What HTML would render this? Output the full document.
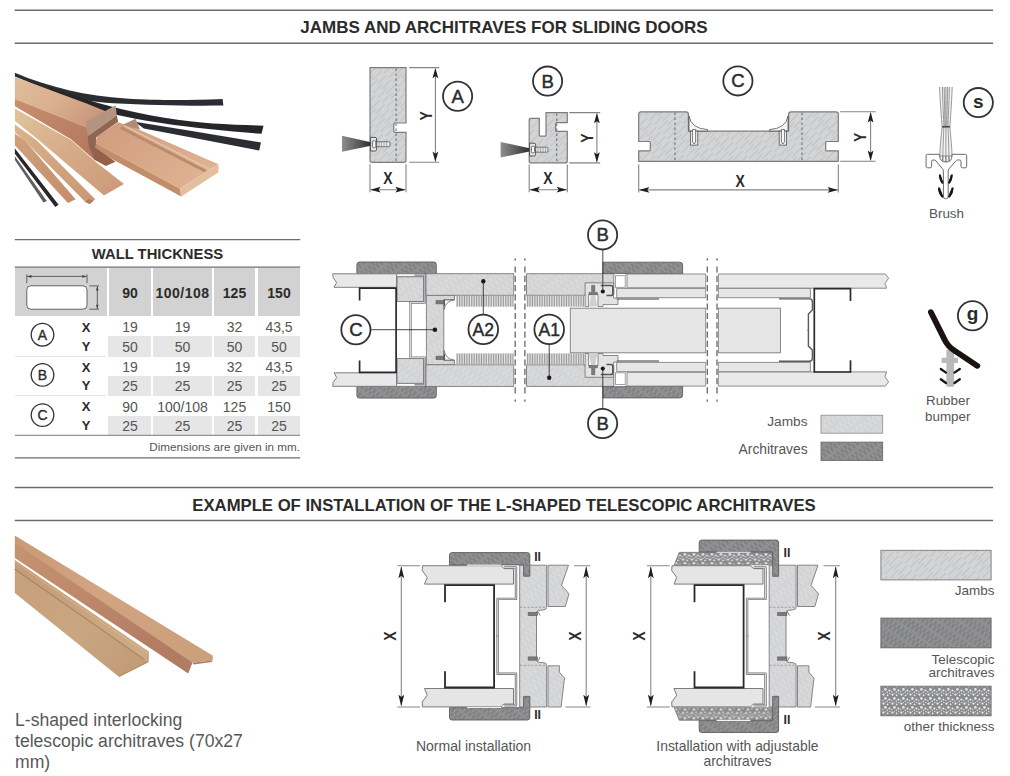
<!DOCTYPE html>
<html lang="en">
<head>
<meta charset="utf-8">
<title>Jambs and architraves for sliding doors</title>
<style>
html,body{margin:0;padding:0;background:#fff;}
body{width:1010px;height:776px;position:relative;overflow:hidden;font-family:"Liberation Sans",Arial,sans-serif;color:#333;}
.abs{position:absolute;}
.rule{position:absolute;height:2px;background:#6e6e6e;}
.h1{position:absolute;left:0;width:1010px;text-align:center;font-weight:bold;font-size:17px;line-height:20px;color:#2b2b2b;white-space:nowrap;}
.lbl{position:absolute;color:#555;font-size:13px;white-space:nowrap;line-height:1;}
/* table */
.tb{position:absolute;font-size:14px;color:#555;}
.tb .c{position:absolute;text-align:center;line-height:1;white-space:nowrap;}
.tb .g{position:absolute;background:#d2d2d2;}
.tb .l{position:absolute;background:#e6e6e6;}
.tb b{color:#2b2b2b;}
svg{position:absolute;left:0;top:0;}
svg text{font-family:"Liberation Sans",Arial,sans-serif;}
</style>
</head>
<body>
<!-- section rules and titles -->
<div class="h1" style="top:18px;left:-1px;">JAMBS AND ARCHITRAVES FOR SLIDING DOORS</div>

<div class="h1" style="top:496px;font-size:16.7px;left:-1px;">EXAMPLE OF INSTALLATION OF THE L-SHAPED TELESCOPIC ARCHITRAVES</div>

<!-- WALL THICKNESS table -->
<div class="tb" id="tb" style="left:0;top:0;width:320px;height:470px;">
  <div class="c" style="left:15px;width:285px;top:247px;font-weight:bold;font-size:14.8px;color:#2b2b2b;">WALL THICKNESS</div>
  <!-- header cells -->
  <div class="g" style="left:15px;top:268px;width:92px;height:48px;"></div>
  <div class="g" style="left:109px;top:268px;width:42px;height:48px;"></div>
  <div class="g" style="left:153px;top:268px;width:59px;height:48px;"></div>
  <div class="g" style="left:214px;top:268px;width:41px;height:48px;"></div>
  <div class="g" style="left:258px;top:268px;width:42px;height:48px;"></div>
  <div class="c" style="left:109px;width:42px;top:286px;"><b>90</b></div>
  <div class="c" style="left:153px;width:59px;top:286px;letter-spacing:0.5px;"><b>100/108</b></div>
  <div class="c" style="left:214px;width:41px;top:286px;"><b>125</b></div>
  <div class="c" style="left:258px;width:42px;top:286px;"><b>150</b></div>
  <!-- Y rows light grey -->
  <div class="l" style="left:108px;top:336px;width:43px;height:21px;"></div>
  <div class="l" style="left:153px;top:336px;width:59px;height:21px;"></div>
  <div class="l" style="left:214px;top:336px;width:41px;height:21px;"></div>
  <div class="l" style="left:258px;top:336px;width:42px;height:21px;"></div>
  <div class="l" style="left:108px;top:376px;width:43px;height:20px;"></div>
  <div class="l" style="left:153px;top:376px;width:59px;height:20px;"></div>
  <div class="l" style="left:214px;top:376px;width:41px;height:20px;"></div>
  <div class="l" style="left:258px;top:376px;width:42px;height:20px;"></div>
  <div class="l" style="left:108px;top:416px;width:43px;height:19px;"></div>
  <div class="l" style="left:153px;top:416px;width:59px;height:19px;"></div>
  <div class="l" style="left:214px;top:416px;width:41px;height:19px;"></div>
  <div class="l" style="left:258px;top:416px;width:42px;height:19px;"></div>
  <!-- faint separators -->
  <div class="abs" style="left:15px;top:356px;width:91px;height:1px;background:#e4e4e4;"></div>
  <div class="abs" style="left:15px;top:395px;width:91px;height:1px;background:#e4e4e4;"></div>
  <!-- X / Y labels -->
  <div class="c" style="left:76px;width:20px;top:321px;font-size:13px;"><b>X</b></div>
  <div class="c" style="left:76px;width:20px;top:340px;font-size:13px;"><b>Y</b></div>
  <div class="c" style="left:76px;width:20px;top:361px;font-size:13px;"><b>X</b></div>
  <div class="c" style="left:76px;width:20px;top:379px;font-size:13px;"><b>Y</b></div>
  <div class="c" style="left:76px;width:20px;top:400px;font-size:13px;"><b>X</b></div>
  <div class="c" style="left:76px;width:20px;top:419px;font-size:13px;"><b>Y</b></div>
  <!-- values row A -->
  <div class="c" style="left:109px;width:42px;top:320px;">19</div>
  <div class="c" style="left:153px;width:59px;top:320px;">19</div>
  <div class="c" style="left:214px;width:41px;top:320px;">32</div>
  <div class="c" style="left:258px;width:42px;top:320px;">43,5</div>
  <div class="c" style="left:109px;width:42px;top:340px;">50</div>
  <div class="c" style="left:153px;width:59px;top:340px;">50</div>
  <div class="c" style="left:214px;width:41px;top:340px;">50</div>
  <div class="c" style="left:258px;width:42px;top:340px;">50</div>
  <!-- row B -->
  <div class="c" style="left:109px;width:42px;top:360px;">19</div>
  <div class="c" style="left:153px;width:59px;top:360px;">19</div>
  <div class="c" style="left:214px;width:41px;top:360px;">32</div>
  <div class="c" style="left:258px;width:42px;top:360px;">43,5</div>
  <div class="c" style="left:109px;width:42px;top:379px;">25</div>
  <div class="c" style="left:153px;width:59px;top:379px;">25</div>
  <div class="c" style="left:214px;width:41px;top:379px;">25</div>
  <div class="c" style="left:258px;width:42px;top:379px;">25</div>
  <!-- row C -->
  <div class="c" style="left:109px;width:42px;top:400px;">90</div>
  <div class="c" style="left:153px;width:59px;top:400px;">100/108</div>
  <div class="c" style="left:214px;width:41px;top:400px;">125</div>
  <div class="c" style="left:258px;width:42px;top:400px;">150</div>
  <div class="c" style="left:109px;width:42px;top:419px;">25</div>
  <div class="c" style="left:153px;width:59px;top:419px;">25</div>
  <div class="c" style="left:214px;width:41px;top:419px;">25</div>
  <div class="c" style="left:258px;width:42px;top:419px;">25</div>
  <div class="c" style="left:100px;width:200px;top:441px;text-align:right;font-size:11.7px;">Dimensions are given in mm.</div>
</div>

<!-- text labels -->
<div class="lbl" style="left:929px;top:207px;font-size:13.4px;">Brush</div>
<div class="lbl" style="left:926px;top:394px;font-size:13.4px;">Rubber</div>
<div class="lbl" style="left:925px;top:410px;font-size:13.4px;">bumper</div>
<div class="lbl" style="left:700px;width:107.6px;text-align:right;top:414.5px;font-size:13.7px;">Jambs</div>
<div class="lbl" style="left:700px;width:107.6px;text-align:right;top:443px;font-size:13.8px;">Architraves</div>
<div class="lbl" style="left:15px;top:709.7px;font-size:17.6px;line-height:20.9px;white-space:normal;width:260px;color:#585858;">L-shaped interlocking<br>telescopic architraves (70x27<br>mm)</div>
<div class="lbl" style="left:373.5px;width:200px;text-align:center;top:739px;font-size:14px;line-height:15px;">Normal installation</div>
<div class="lbl" style="left:637.4px;width:200px;text-align:center;top:739px;font-size:13.9px;line-height:15px;white-space:normal;">Installation with adjustable<br>architraves</div>
<div class="lbl" style="left:874.5px;width:120px;text-align:right;top:584px;font-size:13.5px;">Jambs</div>
<div class="lbl" style="left:874.5px;width:120px;text-align:right;top:654.1px;font-size:13.5px;line-height:12.4px;white-space:normal;">Telescopic<br>architraves</div>
<div class="lbl" style="left:874.5px;width:120px;text-align:right;top:719.9px;font-size:13.5px;">other thickness</div>

<!-- DRAWINGS -->
<svg id="dw" width="1010" height="776" viewBox="0 0 1010 776">
<defs>
<pattern id="hL" width="6.5" height="22" patternUnits="userSpaceOnUse" patternTransform="rotate(45)">
  <rect width="6.5" height="22" fill="#d3d4d6"/>
  <path d="M1.5,0 V13 M4.8,9 V22" stroke="#b9babc" stroke-width="0.8" fill="none"/>
</pattern>
<pattern id="hL2" width="5" height="14" patternUnits="userSpaceOnUse" patternTransform="rotate(-40)">
  <rect width="5" height="14" fill="#d8d9da"/>
  <path d="M1.2,0 V9 M3.7,6 V14" stroke="#c8c9ca" stroke-width="0.8" fill="none"/>
</pattern>
<pattern id="hD" width="4.6" height="12" patternUnits="userSpaceOnUse" patternTransform="rotate(-40)">
  <rect width="4.6" height="12" fill="#828384"/>
  <path d="M1.2,0 V8 M3.5,5 V12" stroke="#a3a3a4" stroke-width="0.9" fill="none"/>
</pattern>
<pattern id="hS" width="9" height="9" patternUnits="userSpaceOnUse">
  <rect width="9" height="9" fill="#8a8b8c"/>
  <circle cx="1.5" cy="1.6" r="1.15" fill="#efefef"/>
  <circle cx="5.6" cy="2.4" r="0.8" fill="#f6f6f6"/>
  <circle cx="3.4" cy="5.4" r="1.3" fill="#e8e8e8"/>
  <circle cx="7.4" cy="6.6" r="1.0" fill="#f1f1f1"/>
  <circle cx="0.8" cy="7.6" r="0.7" fill="#f4f4f4"/>
  <circle cx="7.8" cy="0.6" r="0.65" fill="#ebebeb"/>
  <circle cx="5.3" cy="8.2" r="0.7" fill="#f2f2f2"/>
  <circle cx="3.6" cy="0.4" r="0.45" fill="#f2f2f2"/>
</pattern>
<linearGradient id="gBr" x1="0" y1="0" x2="1" y2="0">
  <stop offset="0" stop-color="#8e8e8e"/><stop offset="0.55" stop-color="#5a5a5a"/><stop offset="1" stop-color="#2a2a2a"/>
</linearGradient>
<g id="ahU"><path d="M0,0 L-2.9,10.4 L0,8.3 L2.9,10.4 Z" fill="#1e1e1e"/></g>
<pattern id="hB" width="1.7" height="6" patternUnits="userSpaceOnUse">
  <rect width="1.7" height="6" fill="#e6e6e6"/>
  <rect x="0" y="0" width="0.75" height="6" fill="#8e8e8e"/>
</pattern>
<filter id="blur1" x="-5%" y="-5%" width="110%" height="110%"><feGaussianBlur stdDeviation="0.55"/></filter>
<linearGradient id="w1" x1="0" y1="0" x2="1" y2="0.5"><stop offset="0" stop-color="#dfbe98"/><stop offset="0.5" stop-color="#dbb090"/><stop offset="1" stop-color="#c9967b"/></linearGradient>
<linearGradient id="w2" x1="0" y1="0" x2="1" y2="0.6"><stop offset="0" stop-color="#c98f6e"/><stop offset="1" stop-color="#b67a60"/></linearGradient>
<linearGradient id="w3" x1="0" y1="0" x2="1" y2="0.6"><stop offset="0" stop-color="#cf9c7d"/><stop offset="1" stop-color="#deb292"/></linearGradient>
<linearGradient id="w4" x1="0" y1="0" x2="1" y2="0.9"><stop offset="0" stop-color="#e0c49a"/><stop offset="0.5" stop-color="#d6ac88"/><stop offset="1" stop-color="#cc9a7a"/></linearGradient>
<linearGradient id="v1" x1="0" y1="0" x2="1" y2="0.6"><stop offset="0" stop-color="#c99a78"/><stop offset="0.5" stop-color="#d2a482"/><stop offset="1" stop-color="#cda07c"/></linearGradient>
<linearGradient id="v2" x1="0" y1="0" x2="1" y2="0.6"><stop offset="0" stop-color="#c4946f"/><stop offset="0.5" stop-color="#bd876b"/><stop offset="1" stop-color="#b27b62"/></linearGradient>
<linearGradient id="v3" x1="0" y1="0" x2="1" y2="0.7"><stop offset="0" stop-color="#c39a76"/><stop offset="1" stop-color="#cdab84"/></linearGradient>
<linearGradient id="v4" x1="0" y1="0" x2="1" y2="0.8"><stop offset="0" stop-color="#c7a07a"/><stop offset="0.6" stop-color="#c9a680"/><stop offset="1" stop-color="#c29c76"/></linearGradient>
<pattern id="hD2" width="4.6" height="12" patternUnits="userSpaceOnUse" patternTransform="rotate(35)">
  <rect width="4.6" height="12" fill="#828384"/>
  <path d="M1.2,0 V8 M3.5,5 V12" stroke="#a3a3a4" stroke-width="0.9" fill="none"/>
</pattern>
<linearGradient id="w5" x1="0" y1="0" x2="1" y2="1"><stop offset="0" stop-color="#d9b48c"/><stop offset="1" stop-color="#c89673"/></linearGradient>
<linearGradient id="w6" x1="0" y1="0" x2="1" y2="1"><stop offset="0" stop-color="#cfa07e"/><stop offset="1" stop-color="#c48d6c"/></linearGradient>

</defs>
<g stroke="#6c6c6c" stroke-width="1.5" fill="none">
  <path d="M14.7,10.3 H993.1 M14.7,43.3 H993.1 M14.7,487.6 H993.1 M14.7,520.4 H993.1"/>
</g>
<g stroke="#6c6c6c" fill="none">
  <path d="M14.8,239.7 H300.2" stroke-width="1.3"/>
  <path d="M14.8,267.1 H300.2" stroke-width="1.4"/>
  <path d="M14.8,435.3 H300.2" stroke-width="1" stroke="#7a7a7a"/>
  <path d="M14.8,457.9 H300.2" stroke-width="1.4"/>
</g>
<!-- table header icon -->
<g stroke="#555" stroke-width="0.9" fill="none">
  <rect x="26.8" y="285.8" width="60.2" height="23.4" rx="4" fill="#fff"/>
  <path d="M26.8,274.4 V283.2 M87,274.4 V283.2 M27.4,276.4 H86.4"/>
  <path d="M89.3,285.9 H99 M89.3,309.2 H99 M97.3,286.4 V308.8"/>
</g>
<g fill="#444">
  <path d="M26.9,276.4 l4.6,-1.3 v2.6 Z M86.9,276.4 l-4.6,-1.3 v2.6 Z M97.3,286 l-1.3,4.4 h2.6 Z M97.3,309.1 l-1.3,-4.4 h2.6 Z"/>
</g>
<!-- table circles -->
<g fill="#fff" stroke="#333" stroke-width="1.3">
  <circle cx="42.5" cy="334.7" r="11.3"/><circle cx="42.5" cy="374.9" r="11.3"/><circle cx="42.5" cy="415.1" r="11.3"/>
</g>
<g font-size="14" text-anchor="middle" fill="#2b2b2b" stroke="#2b2b2b" stroke-width="0.35">
  <text x="42.5" y="339.7">A</text><text x="42.5" y="379.9">B</text><text x="42.5" y="420.1">C</text>
</g>

<g id="photo1" filter="url(#blur1)">
<g transform="translate(10,60) scale(0.2574)"><path d="M19,50 C150,106 300,141 450,150 S700,156 826,152 L829,177 C700,179 550,176 400,168 S150,118 19,64 Z" fill="#2b2d30"/><path d="M150,104 C300,160 450,200 600,224 S850,250 985,255 L977,287 C850,278 700,262 600,247 S400,214 300,182 L150,118 Z" fill="#26282b"/></g>
<path d="M134.8,121.8 L190.2,130.8 L261.0,142.4 L259.2,150.6 L190.2,137.2 L143.8,128.5 Z" fill="#2b2d30" />
<path d="M14.9,77.0 L87.2,103.8 L115.5,115.3 L87.2,127.4 L14.9,98.9 Z" fill="url(#w1)" />
<path d="M14.9,98.9 L87.2,127.4 L89.8,137.2 L95.2,160.6 L71.3,139.5 L14.9,106.3 Z" fill="url(#w2)" />
<path d="M118.1,122.3 L138.7,129.5 L218.5,164.2 L179.9,188.7 L94.9,142.4 L97.5,136.2 Z" fill="url(#w3)" />
<path d="M120.7,127.4 L205.6,171.2 " stroke="#b98a6d" stroke-width="2.8" fill="none"/>
<path d="M124.5,125.9 L209.5,169.1 " stroke="#e6c4a8" stroke-width="1.4" fill="none"/>
<path d="M94.9,142.4 L179.9,188.7 L181.2,196.4 L96.2,150.6 Z" fill="#c38d6b" />
<path d="M218.5,164.2 L218.5,172.2 L181.2,196.4 L179.9,188.7 Z" fill="#e3bf9f" />
<path d="M94.9,147.5 L115.5,161.7 L105.8,166.0 L94.9,159.9 Z" fill="#955f4a" />
<path d="M85.9,121.8 L115.5,105.3 L116.8,115.3 L87.7,136.2 Z" fill="#b39480" />
<path d="M87.7,136.2 L116.8,115.3 L118.1,121.8 L96.2,137.2 L94.9,160.9 L88.8,146.2 Z" fill="#8f6552" />
<path d="M123.3,124.4 L135.6,118.7 L140.0,129.5 L131.0,127.4 Z" fill="#b08b75" />
<path d="M14.9,108.4 L71.3,140.3 L94.9,161.2 L124.0,184.1 L104.0,195.6 L38.6,140.1 L14.9,121.0 Z" fill="url(#w4)" />
<path d="M14.9,124.6 L36.3,140.1 L95.2,199.3 L89.8,204.1 L85.4,202.1 L23.9,140.1 L14.9,132.3 Z" fill="url(#w5)" />
<path d="M85.4,202.1 L88.5,199.0 L93.4,200.8 L89.8,204.1 Z" fill="#b07d5e" />
<path d="M14.9,133.6 L24.4,140.1 L75.6,199.3 L67.9,203.1 L14.9,145.2 Z" fill="url(#w6)" />
<path d="M14.9,148.5 L58.6,204.7 L55.3,207.0 L14.9,153.7 Z" fill="#2a2526" />
<path d="M14.9,156.3 L46.8,201.1 L43.5,202.6 L14.9,160.1 Z" fill="#5c5e5e" />
</g>

<g id="profiles" font-weight="bold" font-size="17" fill="#2b2b2b" text-anchor="middle">
<!-- ===== A ===== -->
<path d="M370,67.6 H406 V123 H394.8 Q393.8,123 393.8,124 V131.3 Q393.8,132.3 394.8,132.3 H406 V160.3 Q406,162.3 404,162.3 H372 Q370,162.3 370,160.3 Z" fill="url(#hL)" stroke="#7c7c7c" stroke-width="1.2"/>
<path d="M396.1,68.5 V162" stroke="#707070" stroke-width="1.1" stroke-dasharray="2.6,2.4" fill="none"/>
<path d="M342,135.8 L372,142.6 V145.4 L342,151.7 Z" fill="url(#gBr)"/>
<path d="M370.6,137.4 H375 Q376.6,137.4 376.6,139 V149.4 Q376.6,151 375,151 H370.6 Z" fill="#e9e9e9" stroke="#444" stroke-width="0.9"/>
<rect x="372.6" y="140.6" width="3.2" height="7.2" rx="1.4" fill="#fff" stroke="#444" stroke-width="0.8"/>
<rect x="376.6" y="141.7" width="13.4" height="5" rx="1.2" fill="#e4e4e4" stroke="#555" stroke-width="0.8"/>
<path d="M379,141.9 v4.6 M381.5,141.9 v4.6 M384,141.9 v4.6 M386.5,141.9 v4.6" stroke="#888" stroke-width="0.6"/>
<g stroke="#848484" stroke-width="1.1" fill="none">
  <path d="M409.3,67.6 H439.2 M409.3,162.3 H439.2 M435.4,69 V161"/>
  <path d="M370,164.2 V192.3 M406,164.2 V192.3 M371,189.7 H405"/>
</g>
<use href="#ahU" transform="translate(435.4,67.9)"/>
<use href="#ahU" transform="translate(435.4,162) rotate(180)"/>
<use href="#ahU" transform="translate(370.3,189.7) rotate(-90)"/>
<use href="#ahU" transform="translate(405.7,189.7) rotate(90)"/>
<text transform="translate(426,115.9) rotate(-90) scale(0.82,1)" y="6.1">Y</text>
<text transform="translate(388,178.1) scale(0.82,1)" y="6.1">X</text>
<circle cx="457.6" cy="96.2" r="14.6" fill="#fff" stroke="#333" stroke-width="1.8"/>
<text x="457.6" y="102.6" font-weight="normal" font-size="18.5" stroke="#2b2b2b" stroke-width="0.45">A</text>

<!-- ===== B ===== -->
<path d="M529.2,119.4 Q529.2,118.4 530.2,118.4 H539.3 V135.2 Q539.3,136.2 540.3,136.2 H545 Q546,136.2 546,135.2 V112.6 H567.3 V122.7 H556.7 Q555.7,122.7 555.7,123.7 V130.4 Q555.7,131.4 556.7,131.4 H567.3 V160.9 Q567.3,162.9 565.3,162.9 H531.2 Q529.2,162.9 529.2,160.9 Z" fill="url(#hL)" stroke="#7c7c7c" stroke-width="1.2"/>
<path d="M556.7,113.5 V162.5" stroke="#707070" stroke-width="1.1" stroke-dasharray="2.6,2.4" fill="none"/>
<path d="M500.6,142 L530.6,148.4 V151.2 L500.6,157.5 Z" fill="url(#gBr)"/>
<path d="M529.6,143.2 H534 Q535.6,143.2 535.6,144.8 V154.4 Q535.6,156 534,156 H529.6 Z" fill="#e9e9e9" stroke="#444" stroke-width="0.9"/>
<rect x="531.4" y="146.2" width="3.2" height="6.8" rx="1.4" fill="#fff" stroke="#444" stroke-width="0.8"/>
<rect x="535.6" y="147.2" width="12.4" height="5" rx="1.2" fill="#e4e4e4" stroke="#555" stroke-width="0.8"/>
<path d="M538,147.4 v4.6 M540.5,147.4 v4.6 M543,147.4 v4.6 M545.5,147.4 v4.6" stroke="#888" stroke-width="0.6"/>
<g stroke="#848484" stroke-width="1.1" fill="none">
  <path d="M569.3,112.6 H600.2 M569.3,162.9 H600.2 M596.9,114 V161.5"/>
  <path d="M529.2,164.5 V192.3 M567.3,164.5 V192.3 M530,189.7 H566.5"/>
</g>
<use href="#ahU" transform="translate(596.9,112.9)"/>
<use href="#ahU" transform="translate(596.9,162.6) rotate(180)"/>
<use href="#ahU" transform="translate(529.5,189.7) rotate(-90)"/>
<use href="#ahU" transform="translate(567,189.7) rotate(90)"/>
<text transform="translate(587.2,138.1) rotate(-90) scale(0.82,1)" y="6.1">Y</text>
<text transform="translate(548,178.1) scale(0.82,1)" y="6.1">X</text>
<circle cx="547.6" cy="81.1" r="14.6" fill="#fff" stroke="#333" stroke-width="1.8"/>
<text x="547.6" y="87.5" font-weight="normal" font-size="18.5" stroke="#2b2b2b" stroke-width="0.45">B</text>

<!-- ===== C ===== -->
<path d="M638.7,114.3 Q638.7,111.8 641.2,111.8 H685.9 Q688.4,111.8 688.4,114.3 V131.1 H788.6 V114.3 Q788.6,111.8 791.1,111.8 H835.8 Q838.3,111.8 838.3,114.3 V141.5 H826.7 Q825.7,141.5 825.7,142.5 V149.9 Q825.7,150.9 826.7,150.9 H838.3 V161.3 H638.7 V150.9 H649.3 Q650.3,150.9 650.3,149.9 V142.5 Q650.3,141.5 649.3,141.5 H638.7 Z" fill="url(#hL)" stroke="#7c7c7c" stroke-width="1.2"/>
<path d="M675,112.5 V161 M802,112.5 V161" stroke="#707070" stroke-width="1.1" stroke-dasharray="2.6,2.4" fill="none"/>
<!-- brackets -->
<path d="M689,116 Q691,128.5 707.5,129.6 V131 H689 Z" fill="#f4f4f4" stroke="#555" stroke-width="0.8"/>
<path d="M788,116 Q786,128.5 769.5,129.6 V131 H788 Z" fill="#f4f4f4" stroke="#555" stroke-width="0.8"/>
<!-- screws -->
<rect x="690.4" y="131.1" width="7.4" height="14" fill="#efefef" stroke="#555" stroke-width="0.8"/>
<path d="M692.6,129.5 h3 v12.5 l-1.5,2 l-1.5,-2 Z" fill="#fff" stroke="#444" stroke-width="0.7"/>
<rect x="779.2" y="131.1" width="7.4" height="14" fill="#efefef" stroke="#555" stroke-width="0.8"/>
<path d="M781.4,129.5 h3 v12.5 l-1.5,2 l-1.5,-2 Z" fill="#fff" stroke="#444" stroke-width="0.7"/>
<g stroke="#848484" stroke-width="1.1" fill="none">
  <path d="M840.2,111.8 H875.6 M840.2,161.3 H875.6 M870.6,113 V160"/>
  <path d="M638.7,164.4 V192.4 M838.3,164.4 V192.4 M639.5,189.9 H837.5"/>
</g>
<use href="#ahU" transform="translate(870.6,112.1)"/>
<use href="#ahU" transform="translate(870.6,161) rotate(180)"/>
<use href="#ahU" transform="translate(639,189.9) rotate(-90)"/>
<use href="#ahU" transform="translate(838,189.9) rotate(90)"/>
<text transform="translate(860.1,137.3) rotate(-90) scale(0.82,1)" y="6.1">Y</text>
<text transform="translate(740.2,180.8) scale(0.82,1)" y="6.1">X</text>
<circle cx="737.9" cy="80.9" r="14.6" fill="#fff" stroke="#333" stroke-width="1.8"/>
<text x="737.9" y="87.3" font-weight="normal" font-size="18.5" stroke="#2b2b2b" stroke-width="0.45">C</text>
</g>

<g id="section">
<!-- C jamb (hatched) -->
<path d="M426.4,295.4 H454.5 V299.7 H443.8 V360.4 H454.5 V364.7 H426.4 Z" fill="url(#hL2)" stroke="#7a7a7a" stroke-width="0.9"/>
<!-- ========= top half (mirrored below) ========= -->
<g id="secTop">
  <!-- left architrave -->
  <path d="M356.9,273.7 V264.5 Q356.9,262 359.4,262 H433.8 Q436.3,262 436.3,264.5 V273.7 Z" fill="url(#hD)" stroke="#5e5e5e" stroke-width="0.9"/>
  <!-- left wall strip -->
  <path d="M396.5,273.8 H332.8 L333.1,277.5 L336.6,282.6 L334,287.3 H396.5 Z" fill="#e8e8ea" stroke="#808080" stroke-width="1"/>
  <!-- white strip + jamb block -->
  <rect x="396.8" y="273.9" width="27" height="2.9" fill="#fafafa" stroke="#8a8a8a" stroke-width="0.7"/>
  <rect x="397.1" y="276.8" width="26.4" height="24.7" fill="url(#hL2)" stroke="#7a7a7a" stroke-width="0.9"/>
  <!-- thin metal profile (double line) -->
  <path d="M414.6,274.9 H424.9 V302.5 H410.5 V331" fill="none" stroke="#777" stroke-width="2.3" stroke-linejoin="round"/>
  <path d="M414.6,274.9 H424.9 V302.5 H410.5 V331" fill="none" stroke="#f4f4f4" stroke-width="0.8"/>
  <!-- A2 jamb left part -->
  <rect x="426" y="273.7" width="87.8" height="21.6" fill="url(#hL2)" stroke="#7a7a7a" stroke-width="0.9"/>
  <!-- A2 jamb right part with cutout -->
  <path d="M526.5,273.7 H613.8 V294.6 H584.9 V295.3 H526.5 Z" fill="url(#hL2)" stroke="#7a7a7a" stroke-width="0.9"/>
  <!-- brushes -->
  <rect x="456.1" y="295.9" width="57.7" height="10.8" fill="url(#hB)"/>
  <rect x="526.5" y="295.9" width="57.7" height="10.8" fill="url(#hB)"/>
  <!-- B profile -->
  <path d="M585.1,282.8 H613.6 V298 H618 V304.6 H603 V306.6 H598 V294.6 H588.6 V306.6 H585.1 Z" fill="#e3e3e3" stroke="#6e6e6e" stroke-width="0.8"/>
  <path d="M591.2,294.6 L589,306.6 H597.4 L595.2,294.6 Z" fill="#cfcfcf" stroke="none"/>
  <path d="M591.6,285.4 H594.8 V292.4 H597.4 V294.4 H589 V292.4 H591.6 Z" fill="#7c7c7c" stroke="#555" stroke-width="0.5"/>
  <path d="M600.8,285.6 H611 Q612.8,285.6 612.8,287.4 V293.8 Q612.8,295.6 611,295.6 H606.5" fill="none" stroke="#555" stroke-width="1.5"/>
  <!-- right architrave -->
  <path d="M602.9,273.4 V262.2 H679.8 Q682.6,262.2 682.6,265 V273.9 H625 V273.4 Z" fill="url(#hD)" stroke="#5e5e5e" stroke-width="0.9"/>
  <!-- white box -->
  <rect x="615.4" y="275.7" width="9.8" height="11.6" fill="#fff" stroke="#8a8a8a" stroke-width="0.8"/>
  <!-- wall strip 1 (outer) -->
  <path d="M627,274 H705.8 V287.8 H627 Z" fill="#e9e9e9" stroke="#808080" stroke-width="0.9"/>
  <path d="M718.3,274 H885.4 L888.6,278.2 L885,283.4 L886.6,288.2 H718.3 Z" fill="#e9e9e9" stroke="#808080" stroke-width="0.9"/>
  <!-- wall strip 2 (inner) -->
  <path d="M616.7,288.4 H705.8 V297.7 H616.7 Z" fill="#e6e6e6" stroke="#808080" stroke-width="0.9"/>
  <path d="M718.3,288.4 H810.4 V297.7 H718.3 Z" fill="#e6e6e6" stroke="#808080" stroke-width="0.9"/>
  <path d="M616.7,299 H659" stroke="#7a7a7a" stroke-width="1.5" fill="none"/>
  <path d="M779,298.9 H809.5 Q812.2,298.9 812.4,301.6 V310 L808.4,314 V331" stroke="#5a5a5a" stroke-width="1.4" fill="none"/>
  <!-- C-jamb bracket + screw -->
  <path d="M454.3,299.9 Q445.6,301 444.2,309.5 L443.9,300 Z" fill="#f7f7f7" stroke="#6a6a6a" stroke-width="0.8"/>
  <path d="M436,300.6 H443.6 V303.8 H436 Z" fill="#7a7a7a" stroke="#555" stroke-width="0.6"/>
  <path d="M444.4,299.8 V306" stroke="#555" stroke-width="1.1"/>
</g>
<use href="#secTop" transform="translate(0,660.1) scale(1,-1)"/>

<!-- left steel C profile -->
<path d="M359.6,300.5 V288.1 H396.1 V372.4 H359.6 V360.6" fill="none" stroke="#2a2a2a" stroke-width="1.7"/>
<!-- door panel -->
<rect x="570.3" y="308.2" width="135.5" height="44.6" fill="#e6e6e6" stroke="#7a7a7a" stroke-width="0.9"/>
<rect x="718.3" y="308.2" width="62.1" height="44.6" fill="#e6e6e6" stroke="#7a7a7a" stroke-width="0.9"/>
<!-- right steel C profile -->
<path d="M850.5,300.9 V288.6 H814.3 V372 H850.5 V360.2" fill="none" stroke="#2a2a2a" stroke-width="1.7"/>
<!-- white gaps at the breaks -->
<rect x="514.3" y="258" width="11.7" height="145" fill="#fff"/>
<rect x="706.3" y="258" width="11.6" height="145" fill="#fff"/>
<!-- break lines -->
<path d="M515.2,266.4 V396.5 M524.9,266.4 V396.5 M707.3,266.4 V396.5 M717,266.4 V396.5" fill="none" stroke="#666" stroke-width="1.3" stroke-dasharray="6.2,3.1"/>
<path d="M515.2,258.2 v2.2 M524.9,258.2 v2.2 M707.3,258.2 v2.2 M717,258.2 v2.2 M515.2,399.6 v2.2 M524.9,399.6 v2.2 M707.3,399.6 v2.2 M717,399.6 v2.2" fill="none" stroke="#666" stroke-width="1.3"/>

<!-- leaders & labels -->
<g stroke="#333" stroke-width="0.9" fill="none">
  <path d="M370.7,329.7 H434.9 M483.3,314.5 V281.3 M549.2,344.5 V377.8 M602.8,249.7 V291.5 M602.8,408.7 V368.6"/>
</g>
<g fill="#1a1a1a"><circle cx="434.9" cy="329.7" r="2.3"/><circle cx="483.3" cy="281.3" r="2.2"/><circle cx="549.2" cy="377.8" r="2.2"/><circle cx="602.8" cy="291.5" r="2.1"/><circle cx="602.8" cy="368.6" r="2.1"/></g>
<g fill="#fff" stroke="#333" stroke-width="1.8">
  <circle cx="355.9" cy="329.7" r="14.6"/><circle cx="483.3" cy="329.4" r="14.8"/><circle cx="549.2" cy="329.4" r="14.8"/>
  <circle cx="602.6" cy="234.9" r="14.6"/><circle cx="602.6" cy="423.5" r="14.6"/>
</g>
<g font-size="18.5" text-anchor="middle" fill="#2b2b2b" stroke="#2b2b2b" stroke-width="0.45">
  <text x="355.9" y="336.1">C</text>
  <text x="483.3" y="335.8" textLength="21.5" lengthAdjust="spacingAndGlyphs">A2</text>
  <text x="549.2" y="335.8" textLength="21.5" lengthAdjust="spacingAndGlyphs">A1</text>
  <text x="602.6" y="241.3">B</text>
  <text x="602.6" y="429.9">B</text>
</g>
<!-- legend -->
<rect x="821" y="415.2" width="61.7" height="18" fill="url(#hL2)" stroke="#8a8a8a" stroke-width="0.8"/>
<rect x="821" y="442.1" width="61.7" height="18.5" fill="url(#hD)" stroke="#666" stroke-width="0.8"/>
</g>

<g id="acc">
<!-- brush s -->
<path d="M939.6,87 C940.2,105 941.6,118 942.1,126.8 C941.2,137 939.8,148 939.8,156 Q940,162 945.9,162 Q951.8,162 952,156 C952,148 950.6,137 949.9,126.8 C950.4,118 951.6,105 952.2,87 Z" fill="#f3f3f3" stroke="none"/>
<g stroke="#6e6e6e" stroke-width="0.7" fill="none">
  <path d="M939.6,87 C940.2,105 941.6,118 942.1,126.8 C941.2,137 939.8,148 939.8,156"/>
  <path d="M952.2,87 C951.6,105 950.4,118 949.9,126.8 C950.6,137 952,148 952,156"/>
  <path d="M942.4,87 C942.8,105 943.6,118 943.9,126.8 C943.4,137 942.8,148 942.8,161"/>
  <path d="M945.9,87 V162"/>
  <path d="M949.4,87 C949,105 948.2,118 947.9,126.8 C948.4,137 949,148 949,161"/>
  <path d="M944.2,87 C944.5,105 944.9,118 944.9,126.8 M947.6,87 C947.3,105 946.9,118 946.9,126.8"/>
</g>
<path d="M942,126.8 H950" stroke="#333" stroke-width="1.3"/>
<!-- holder -->
<path d="M926.1,155.8 Q926.1,154.3 927.6,154.3 H939.6 V156 Q940,162 945.9,162 Q951.8,162 952,156 V154.3 H965.2 Q966.7,154.3 966.7,155.8 V166.3 Q966.7,167.8 965.2,167.8 H962.3 Q961,167.8 961,166.3 V161.3 Q961,160 959.6,160 H957.6 Q956.6,160 955.8,161 L949.2,168.6 Q948.2,169.8 948.2,171.3 V196.7 Q948.2,198.7 946.2,198.7 H945.4 Q943.4,198.7 943.4,196.7 V171.3 Q943.4,169.8 942.4,168.6 L936,161 Q935.2,160 934.2,160 H933 Q931.6,160 931.6,161.3 V166.3 Q931.6,167.8 930.1,167.8 H927.6 Q926.1,167.8 926.1,166.3 Z" fill="#fff" stroke="#6a6a6a" stroke-width="1"/>
<g stroke="#6e6e6e" stroke-width="0.7" fill="none"><path d="M942.8,156 V161.3 M945.9,156 V162 M949,156 V161.3 M940,156 H952"/></g>
<!-- barbs -->
<g fill="#1c1414">
  <path d="M939.2,174 Q938.6,180 942.8,183.6 Q942.8,178 939.2,174 Z"/>
  <path d="M952.4,174 Q953,180 948.8,183.6 Q948.8,178 952.4,174 Z"/>
  <path d="M938.4,187 Q937.6,194 942.8,197.6 Q942.8,191.6 938.4,187 Z"/>
  <path d="M953.2,187 Q954,194 948.8,197.6 Q948.8,191.6 953.2,187 Z"/>
</g>
<g stroke="#1c1414" stroke-width="2.2" stroke-linecap="round" fill="none">
  <path d="M940,175.5 Q940.4,180 942.4,182.6 M951.6,175.5 Q951.2,180 949.2,182.6 M939.2,188.5 Q939.6,193.5 942.4,196.4 M952.4,188.5 Q952,193.5 949.2,196.4"/>
</g>
<circle cx="978.3" cy="102.6" r="14.6" fill="#fff" stroke="#333" stroke-width="1.8"/>
<text x="978.3" y="107.8" font-weight="bold" font-size="19" text-anchor="middle" fill="#2b2b2b">s</text>

<!-- rubber bumper g -->
<path d="M946.4,350 H954.1 V357.7 H958 V363 H954.1 V385.7 Q954.1,386.7 953.1,386.7 H947.4 Q946.4,386.7 946.4,385.7 V363 H941.6 V357.7 H946.4 Z" fill="#b9b9b9"/>
<g stroke="#1c1414" stroke-width="2.3" stroke-linecap="round" fill="none">
  <path d="M940.8,369 L946,372.6 M959.8,369 L954.5,372.6 M940.8,379.2 L946,383 M959.8,379.2 L954.5,383"/>
</g>
<path d="M954,351 l1.2,1.6 l0.9,-0.9 l1.2,1.7 l0.9,-0.9 l1.2,1.7 l0.9,-0.9 l1.2,1.7 l-2,1 L953,353 Z" fill="#1c1414"/>
<path d="M930.9,312.2 L944.6,339.6 Q947.6,346.2 954.5,350.6 L977.3,365.8" fill="none" stroke="#1c1212" stroke-width="5.8" stroke-linecap="round" stroke-linejoin="round"/>
<circle cx="972.5" cy="315.7" r="14.6" fill="#fff" stroke="#333" stroke-width="1.8"/>
<text x="972.5" y="319.8" font-weight="bold" font-size="19" text-anchor="middle" fill="#2b2b2b">g</text>
</g>

<g id="photo2" filter="url(#blur1)">
<path d="M14.8,535.5 L213.0,655.7 L212.6,660.5 L192.5,662.7 L14.8,542.9 Z" fill="url(#v1)" />
<path d="M14.8,542.4 L192.5,662.4 L188.2,673.6 L14.8,558.1 Z" fill="url(#v2)" />
<path d="M192.5,662.7 L212.6,660.5 L211.7,662.0 L193.6,664.6 Z" fill="#a97b60" />
<path d="M14.8,559.9 L148.5,651.3 L148.1,662.2 L14.8,570.1 Z" fill="url(#v3)" />
<path d="M14.8,569.7 L148.1,662.0 L118.9,676.8 L14.8,593.0 Z" fill="url(#v4)" />
<path d="M14.8,569.2 L144.6,659.6 " stroke="#a4835f" stroke-width="1.1" fill="none"/>
<path d="M14.8,562.0 L147.2,653.5 " stroke="#d9b890" stroke-width="0.8" fill="none"/>
<path d="M148.1,651.8 L148.7,651.3 L148.5,662.2 L119.3,677.0 L118.5,675.9 L147.2,661.4 Z" fill="#b5946d" />
</g>

<g id="install">
<defs>
<g id="instHalf">
  <!-- wall strip -->
  <path d="M422.5,565.7 H500.8 L504.2,568.6 H513.5 V584.1 H424.5 L427.2,577.4 L422.2,570.5 Z" fill="#e5e5e5" stroke="#6e6e6e" stroke-width="0.9"/>
  <!-- thin profile -->
  <path d="M504.2,567.4 H516 V598.9 H497.6 V637" fill="none" stroke="#6e6e6e" stroke-width="2.4" stroke-linejoin="round"/>
  <path d="M504.2,567.4 H516 V598.9 H497.6 V637" fill="none" stroke="#f4f4f4" stroke-width="0.8"/>
  <!-- screw -->
  <rect x="528.1" y="612.4" width="9.4" height="3.3" fill="#7a7a7a" stroke="#555" stroke-width="0.5"/>
  <path d="M537.6,611 l2.6,4.6" stroke="#666" stroke-width="0.8" fill="none"/>
</g>
<g id="instCore">
  <!-- jamb -->
  <path d="M519.7,565.2 H546.6 V607.3 Q546.6,609.5 544,609.8 L538.5,610.4 Q536.5,610.7 536.5,613 V659.6 Q536.5,661.9 538.5,662.2 L544,662.8 Q546.6,663.1 546.6,665.3 V707 H519.7 Z" fill="url(#hL2)" stroke="#7a7a7a" stroke-width="0.9"/>
  <path d="M520,607.3 H546.4 M520,665.3 H546.4" stroke="#8a8a8a" stroke-width="0.7" stroke-dasharray="2.2,1.6" fill="none"/>
  <!-- right pieces -->
  <path d="M548,565.2 H568.5 L561.5,585.4 L569,593.9 L565.3,606.5 H548 Z" fill="url(#hL2)" stroke="#7a7a7a" stroke-width="0.9"/>
  <path d="M548,665.8 H559.4 V672.2 L564.5,678.1 L561.1,707 H548 Z" fill="url(#hL2)" stroke="#7a7a7a" stroke-width="0.9"/>
  <use href="#instHalf"/>
  <use href="#instHalf" transform="translate(0,1272.6) scale(1,-1)"/>
  <!-- steel -->
  <path d="M445,602.3 V585.2 H494.1 V687.5 H445 V671.3" fill="none" stroke="#2a2a2a" stroke-width="1.8"/>
  <!-- dimensions -->
  <g stroke="#868686" stroke-width="1.1" fill="none">
    <path d="M397.4,565.8 H420.2 M397.4,707 H420.2 M401.3,567 V705.6"/>
    <path d="M574,565.8 H590.4 M565.5,707 H590.4 M586.2,567 V705.6"/>
  </g>
  <use href="#ahU" transform="translate(401.3,566.5) scale(1,1.12)"/>
  <use href="#ahU" transform="translate(401.3,706.3) rotate(180) scale(1,1.12)"/>
  <use href="#ahU" transform="translate(586.2,566.5) scale(1,1.12)"/>
  <use href="#ahU" transform="translate(586.2,706.3) rotate(180) scale(1,1.12)"/>
  <g font-weight="bold" font-size="17" fill="#2b2b2b" text-anchor="middle">
    <text transform="translate(389.6,636.2) rotate(-90) scale(0.82,1)" y="6.1">X</text>
    <text transform="translate(574.4,636.2) rotate(-90) scale(0.82,1)" y="6.1">X</text>
  </g>
</g>
<path id="arch1" d="M449.5,564.9 V555.1 Q449.5,552.6 452,552.6 H527.3 Q529.8,552.6 529.8,555.1 V576.2 H523.6 V564.9 Z" fill="url(#hD)" stroke="#5e5e5e" stroke-width="0.9"/>
<path id="arch2" d="M449.7,551.9 V542.6 Q449.7,540.1 452.2,540.1 H526.6 Q529.1,540.1 529.1,542.6 V576.3 H523.2 V551.9 Z" fill="url(#hD)" stroke="#5e5e5e" stroke-width="0.9"/>
<path id="speck" d="M429.8,552.4 H523.2 V564.8 H424.8 Z" fill="url(#hS)" stroke="#6e6e6e" stroke-width="0.8"/>
</defs>

<!-- normal installation -->
<use href="#instCore"/>
<use href="#arch1"/>
<use href="#arch1" transform="translate(0,1272.6) scale(1,-1)"/>
<path d="M467,565.1 H501 M467,707.5 H501" stroke="#f2f2f2" stroke-width="1.1"/>
<g font-weight="bold" font-size="12.3" fill="#2b2b2b" text-anchor="middle">
  <text x="537.6" y="560.6">II</text><text x="537.6" y="719.2">II</text>
  <text x="787" y="557.4">II</text><text x="787" y="723.6">II</text>
</g>

<!-- adjustable installation -->
<g transform="translate(249.5,0)">
  <use href="#instCore"/>
  <use href="#speck"/>
  <use href="#speck" transform="translate(0,1272.6) scale(1,-1)"/>
  <use href="#arch2"/>
  <use href="#arch2" transform="translate(0,1272.6) scale(1,-1)"/>
  <path d="M467,552.2 H501 M467,720.4 H501" stroke="#f2f2f2" stroke-width="1.1"/>
</g>
</g>

<g id="legend2">
<rect x="880.9" y="550.3" width="110.2" height="29.6" fill="url(#hL)" stroke="#7a7a7a" stroke-width="0.9"/>
<rect x="880.9" y="618.1" width="110.2" height="29.7" fill="url(#hD2)" stroke="#666" stroke-width="0.9"/>
<rect x="880.9" y="686.2" width="110.2" height="29.6" fill="url(#hS)" stroke="#6e6e6e" stroke-width="0.9"/>
</g>

</svg>
</body>
</html>
